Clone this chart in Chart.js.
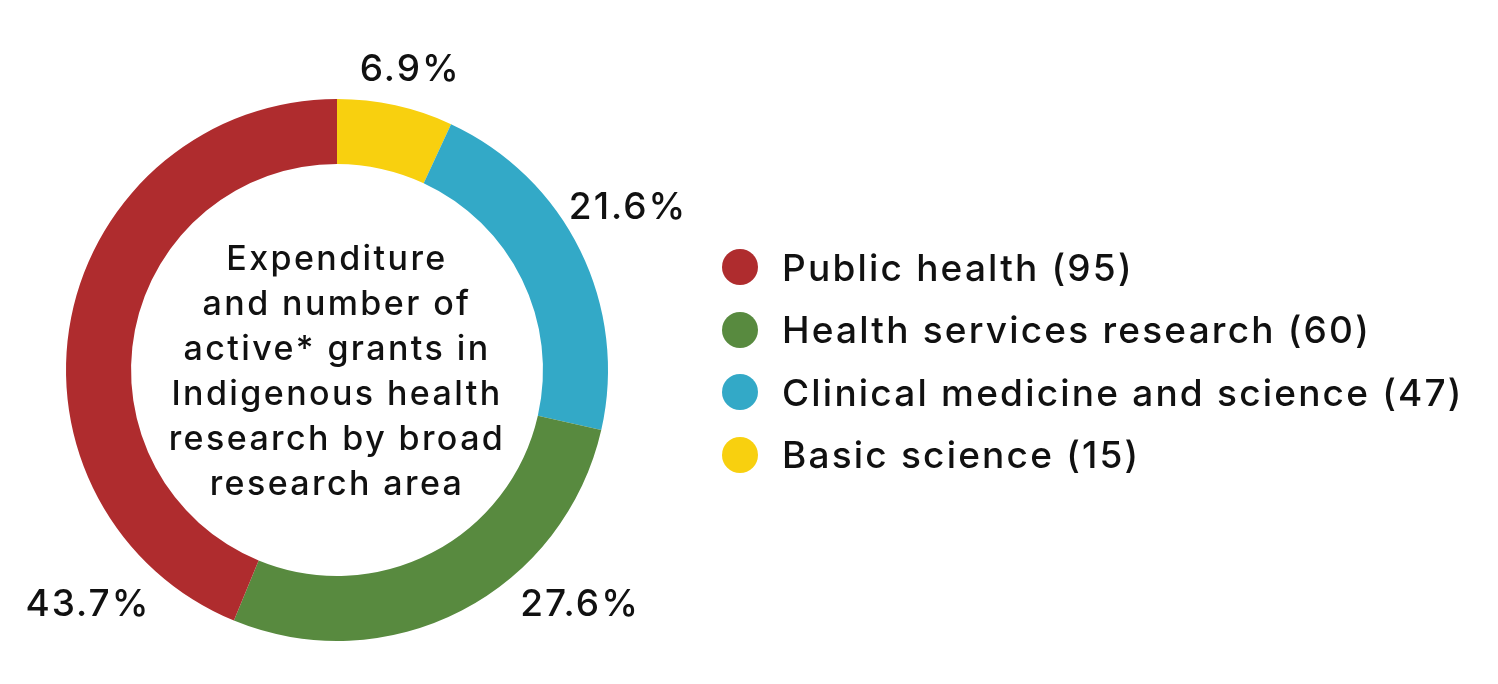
<!DOCTYPE html>
<html>
<head>
<meta charset="utf-8">
<script src="https://cdn.jsdelivr.net/npm/chart.js@4"></script>
<style>
  html, body { margin: 0; padding: 0; background: #fff; }
  #wrap { position: relative; width: 1498px; height: 684px; font-family: Inter, "Open Sans", sans-serif; color: #111; }
  #chart { position: absolute; left: 0; top: 0; }
  #center { position: absolute; left: 137px; width: 400px; top: 235px; text-align: center; font-size: 34px; line-height: 45px; font-weight: 500; letter-spacing: 2.4px; }
  #legend { position: absolute; left: 722px; top: 236px; font-size: 37px; font-weight: 500; letter-spacing: 2.2px; }
  #legend div { height: 62.5px; display: flex; align-items: center; }
  #legend span.dot { width: 36px; height: 36px; border-radius: 50%; margin-right: 24px; display: inline-block; }
</style>
</head>
<body>
<div id="wrap">
  <canvas id="chart" width="1498" height="684"></canvas>
  <div id="center">Expenditure<br>and number of<br>active* grants in<br>Indigenous health<br>research by broad<br>research area</div>
  <div id="legend"></div>
</div>
<script>
// drawn clockwise from the top
const areas = ["Basic science", "Clinical medicine and science", "Health services research", "Public health"];
const shares = [6.9, 21.6, 27.6, 43.7];
const grants = [15, 47, 60, 95];
const colors = ["#F8D00F", "#33A9C7", "#588A3F", "#AF2C2E"];
const legendOrder = [3, 2, 1, 0];

// where each percent label sits, relative to the donut centre in units of the outer radius
const labelPos = [[0.27, -1.107], [1.074, -0.598], [0.897, 0.867], [-0.919, 0.867]];

const legend = document.querySelector("#legend");
legendOrder.forEach((i) => {
  const row = document.createElement("div");
  row.innerHTML = '<span class="dot" style="background:' + colors[i] + '"></span>' + areas[i] + " (" + grants[i] + ")";
  legend.appendChild(row);
});

const pctLabels = {
  id: "pctLabels",
  afterDraw(chart) {
    const ctx = chart.ctx;
    const arcs = chart.getDatasetMeta(0).data;
    ctx.save();
    ctx.font = "500 37px Inter, 'Open Sans', sans-serif";
    ctx.letterSpacing = "2px";
    ctx.fillStyle = "#111";
    ctx.textAlign = "center";
    ctx.textBaseline = "middle";
    arcs.forEach((arc, i) => {
      const r = arc.outerRadius;
      ctx.fillText(shares[i].toFixed(1) + "%", arc.x + labelPos[i][0] * r, arc.y + labelPos[i][1] * r);
    });
    ctx.restore();
  },
};

const ctx = document.getElementById("chart").getContext("2d");
const myChart = new Chart(ctx, {
  type: "doughnut",
  data: {
    labels: areas,
    datasets: [
      {
        data: shares,
        backgroundColor: colors,
        borderWidth: 0,
      },
    ],
  },
  options: {
    responsive: false,
    animation: false,
    cutout: "76%",
    layout: { padding: { left: 66, top: 99, right: 890, bottom: 43 } },
    plugins: {
      legend: { display: false },
      tooltip: { enabled: false },
    },
  },
  plugins: [pctLabels],
});
</script>
</body>
</html>
